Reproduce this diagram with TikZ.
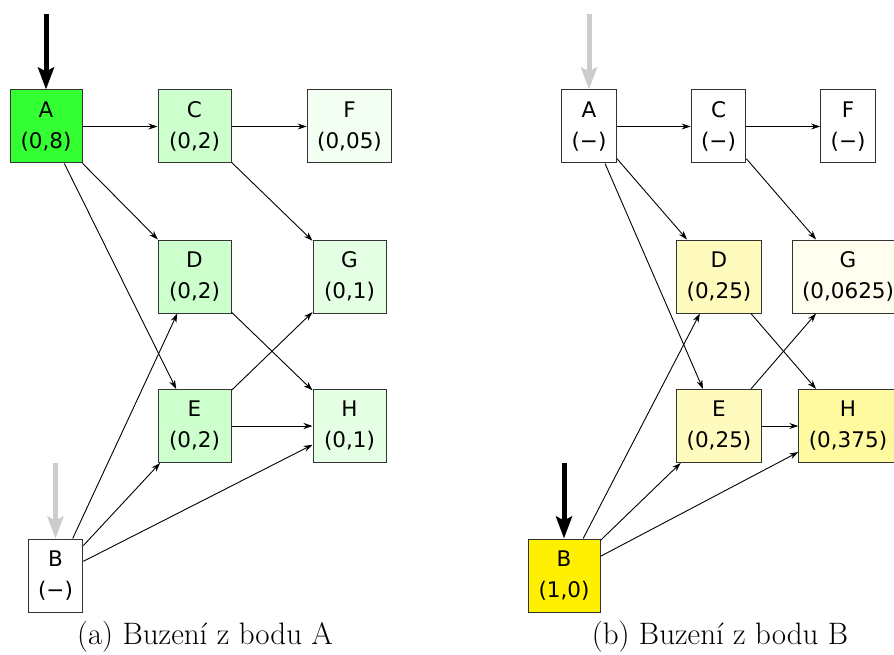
\documentclass[tikz,border=0pt]{standalone}
\usepackage{fontspec}
\setsansfont{DejaVu Sans}
\usetikzlibrary{arrows.meta}
\definecolor{exyel}{RGB}{255,240,0}
\definecolor{exgrn}{RGB}{0,255,0}
\tikzset{
  box/.style={draw=black!80, line width=1pt, minimum height=73pt, inner xsep=10pt, inner ysep=0pt,
    align=center, font=\sffamily\fontsize{21.5}{31}\selectfont, anchor=center},
  edge/.style={-{Stealth[length=9pt,width=6pt]}, line width=0.9pt},
  excite/.style={-{Stealth[length=22pt,width=16pt,inset=4pt]}, line width=5pt, black},
  noexcite/.style={-{Stealth[length=22pt,width=16pt,inset=4pt]}, line width=5pt, black!20},
  captiontext/.style={font=\fontsize{31}{36}\selectfont}
}
\begin{document}
\begin{tikzpicture}[x=1pt,y=-1pt]
\clip (0,0) rectangle (894,655);
\fill[white] (0,0) rectangle (894,655);
% ---------- panel (a)
\node[box, fill=exgrn!80, minimum width=72pt] (aA) at (46,126.5) {A\\(0,8)};
\node[box, fill=exgrn!20, minimum width=73pt] (aC) at (194.5,126.5) {C\\(0,2)};
\node[box, fill=exgrn!5] (aF) at (349.5,126.5) {F\\(0,05)};
\node[box, fill=exgrn!20, minimum width=73pt] (aD) at (194.5,276.5) {D\\(0,2)};
\node[box, fill=exgrn!10, minimum width=73pt] (aG) at (349.5,276.5) {G\\(0,1)};
\node[box, fill=exgrn!20, minimum width=73pt] (aE) at (194.5,426) {E\\(0,2)};
\node[box, fill=exgrn!10, minimum width=73pt] (aH) at (349.5,426) {H\\(0,1)};
\node[box, fill=white] (aB) at (55.5,575.5) {B\\(−)};
\coordinate (aAin) at (46,14);
\coordinate (aBin) at (55.5,463);
\draw[excite] (aAin) -- (aA.north);
\draw[noexcite] (aBin) -- (aB.north);
\foreach \s/\t in {A/C,C/F,A/D,A/E,C/G,D/H,E/G,E/H,B/D,B/E,B/H}
  \draw[edge] (a\s) -- (a\t);
\node[captiontext] (acap) at (205,637) {(a) Buzení z bodu A};
% ---------- panel (b)
\node[box, fill=white] (bA) at (589,126.5) {A\\(−)};
\node[box, fill=white] (bC) at (718.5,126.5) {C\\(−)};
\node[box, fill=white] (bF) at (848,126.5) {F\\(−)};
\node[box, fill=exyel!25] (bD) at (719,276.5) {D\\(0,25)};
\node[box, fill=exyel!6.25] (bG) at (848,276.5) {G\\(0,0625)};
\node[box, fill=exyel!25] (bE) at (719,426) {E\\(0,25)};
\node[box, fill=exyel!37.5] (bH) at (848,426) {H\\(0,375)};
\node[box, fill=exyel, minimum width=72pt] (bB) at (564,575.5) {B\\(1,0)};
\coordinate (bAin) at (589,14);
\coordinate (bBin) at (564,463);
\draw[noexcite] (bAin) -- (bA.north);
\draw[excite] (bBin) -- (bB.north);
\foreach \s/\t in {A/C,C/F,A/D,A/E,C/G,D/H,E/G,E/H,B/D,B/E,B/H}
  \draw[edge] (b\s) -- (b\t);
\node[captiontext] (bcap) at (720,637) {(b) Buzení z bodu B};
\end{tikzpicture}
\end{document}
